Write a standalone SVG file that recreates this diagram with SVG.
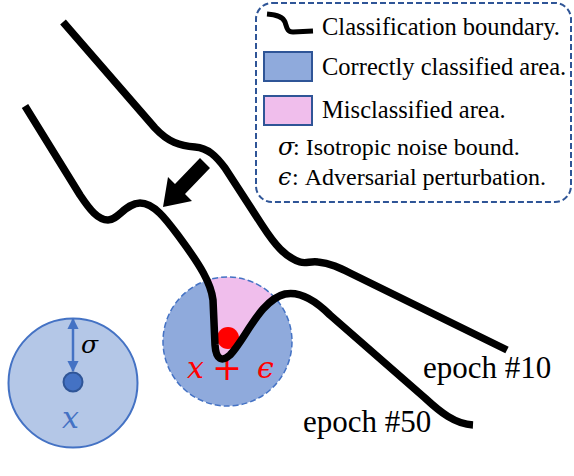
<svg xmlns="http://www.w3.org/2000/svg" width="574" height="476" viewBox="0 0 574 476">
<defs>
<style>
.t{font-family:"Liberation Serif","Times New Roman",serif;fill:#000}
.m{font-family:"DejaVu Serif","Liberation Serif",serif;font-style:italic}
.curve{fill:none;stroke:#000;stroke-width:7.5;stroke-linecap:butt;stroke-linejoin:round}
</style>
<clipPath id="c2"><circle cx="227.5" cy="341.5" r="64.5"/></clipPath>
<marker id="ah" viewBox="0 0 10 10" refX="9" refY="5" markerWidth="4.5" markerHeight="4.5" orient="auto-start-reverse" markerUnits="strokeWidth"><path d="M0,0 L10,5 L0,10 z" fill="#4472C4"/></marker>
</defs>
<rect width="574" height="476" fill="#fff"/>

<g id="noise-ball">
<circle cx="73" cy="383" r="64.5" fill="#B4C7E7" stroke="#4472C4" stroke-width="2"/>
<line x1="73" y1="371" x2="73" y2="319" stroke="#4472C4" stroke-width="2.5" marker-start="url(#ah)" marker-end="url(#ah)"/>
<circle cx="73" cy="382" r="9.5" fill="#4472C4" stroke="#2F5597" stroke-width="2"/>
<text class="m" x="81" y="353" font-size="25" fill="#000">σ</text>
<text class="m" x="62" y="428" font-size="30" fill="#4472C4">x</text>
</g>

<g id="adv-ball">
<circle cx="227.5" cy="341.5" r="64.5" fill="#8FAADC"/>
<path d="M205,262 C210,283 213,300 214,318 L215,345 C216,360 222,362 230,355 C245,340 260,300 285,294 L300,260 Z" fill="#F0BEEC" clip-path="url(#c2)"/>
<circle cx="227.5" cy="341.5" r="64.5" fill="none" stroke="#4472C4" stroke-width="1.5" stroke-dasharray="6,3"/>
<circle cx="228" cy="338" r="11" fill="#FF0000"/>
<text class="m" font-size="30" fill="#FF0000"><tspan x="187" y="378">x</tspan><tspan x="212" y="380" font-style="normal" font-size="36">+</tspan><tspan x="257" y="378">ϵ</tspan></text>
</g>

<g id="boundaries">
<path class="curve" d="M63,22 L155,128 C168,142 180,146 195,147 C208,148 216,156 225,168 L262,225 C275,245 285,257 300,262 C306,264 310,261 318,262 C330,263 340,268 350,273 L507,350"/>
<path class="curve" d="M25,106 L80,195 C90,210 98,220 108,220 C118,220 126,203 140,203 C155,203 168,222 180,238 C200,265 211,283 213,300 L215,345 C216,360 222,362 230,355 C245,340 260,300 285,294 C300,291 315,300 330,315 L425,398 C440,412 455,424 473,425"/>
</g>

<g id="connectors">
<polygon points="200,158 210,168 185,194 192,201 163,207 168,177 175,184" fill="#000"/>
</g>

<g id="labels">
<text class="t" x="423" y="378" font-size="31">epoch #10</text>
<text class="t" x="303" y="432" font-size="31">epoch #50</text>
</g>

<g id="legend">
<rect x="256" y="3" width="315" height="199" rx="16" fill="#fff" stroke="#2F5597" stroke-width="2" stroke-dasharray="6,3"/>
<path d="M267,14 C278,15 283,17 285,22 C287,28 287,32 293,32 L313,31" fill="none" stroke="#000" stroke-width="5"/>
<text class="t" x="322" y="35" font-size="24.5">Classification boundary.</text>
<rect x="264" y="52" width="48" height="29" fill="#8FAADC" stroke="#2F5597" stroke-width="2"/>
<text class="t" x="322" y="75" font-size="24.5">Correctly classified area.</text>
<rect x="264" y="96" width="48" height="29" fill="#F0BEEC" stroke="#2F5597" stroke-width="2"/>
<text class="t" x="322" y="118" font-size="24.5">Misclassified area.</text>
<text class="t" font-size="24"><tspan class="m" x="278" y="155">σ</tspan><tspan x="293" y="155">: Isotropic noise bound.</tspan></text>
<text class="t" font-size="24"><tspan class="m" x="278" y="185">ϵ</tspan><tspan x="292" y="185">: Adversarial perturbation.</tspan></text>
</g>
</svg>
